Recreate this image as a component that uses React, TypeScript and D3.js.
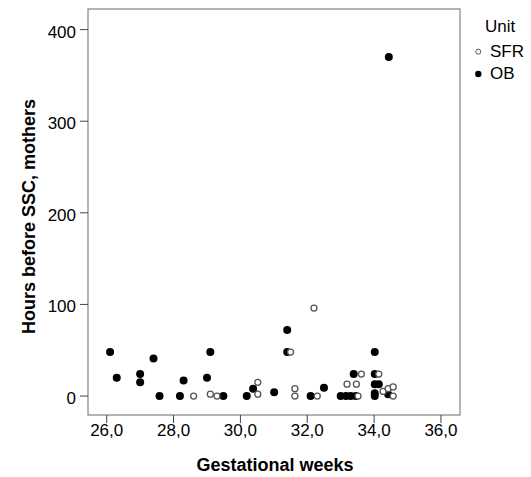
import React from "react";
import * as d3 from "d3";

const sfrWeeks = [28.6, 29.1, 29.3, 30.52, 30.52, 31.5, 31.63, 31.63, 32.2, 32.3, 33.19, 33.47, 33.52, 33.62, 34.14, 34.27, 34.42, 34.57, 34.57];
const sfrHours = [0, 2, 0, 15, 2, 48, 8, 0, 96, 0, 13, 13, 0, 24, 24, 5, 8, 10, 0];

const obWeeks = [26.1, 26.3, 27.0, 27.0, 27.4, 27.58, 28.19, 28.3, 29.0, 29.1, 29.49, 30.19, 30.38, 31.01, 31.4, 31.4, 32.1, 32.5, 33.0, 33.16, 33.3, 33.45, 33.39, 34.02, 34.02, 34.02, 34.14, 34.02, 34.02, 34.42, 34.44];
const obHours = [48, 20, 24, 15, 41, 0, 0, 17, 20, 48, 0, 0, 8, 4, 72, 48, 0, 9, 0, 0, 0, 0, 24, 48, 24, 13, 13, 3, 0, 2, 370];

const xTicks = [26, 28, 30, 32, 34, 36];
const yTicks = [0, 100, 200, 300, 400];
const legendLabels = ["SFR", "OB"];

const FONT = "'Liberation Sans', Arial, sans-serif";

export default function App() {
  const W = 531, H = 477;
  const left = 88, right = 460, top = 9, bottom = 415;
  const x = d3.scaleLinear().domain([25.44, 36.57]).range([left, right]);
  const y = d3.scaleLinear().domain([-20.7, 422.5]).range([bottom, top]);
  const fmt = (v: number) => v.toFixed(1).replace(".", ",");

  return (
    <svg width={W} height={H} style={{ position: "absolute", left: 0, top: 0, background: "#fff" }} fontFamily={FONT}>
      <rect x={left} y={top} width={right - left} height={bottom - top} fill="none" stroke="#8c8c8c" strokeWidth={1.3} />
      {yTicks.map((t) => (
        <g key={"y" + t}>
          <line x1={left - 8} x2={left} y1={y(t)} y2={y(t)} stroke="#444" strokeWidth={1} />
          <text x={76} y={y(t) + 8} textAnchor="end" fontSize={17} fill="#000">{t}</text>
        </g>
      ))}
      {xTicks.map((t) => (
        <g key={"x" + t}>
          <line x1={x(t)} x2={x(t)} y1={bottom} y2={bottom + 8} stroke="#444" strokeWidth={1} />
          <text x={x(t)} y={436} textAnchor="middle" fontSize={17} fill="#000">{fmt(t)}</text>
        </g>
      ))}
      <text x={275} y={471} textAnchor="middle" fontSize={18} fontWeight="bold" fill="#000">Gestational weeks</text>
      <text transform={`translate(34.5,216.5) rotate(-90)`} textAnchor="middle" fontSize={18} fontWeight="bold" fill="#000">Hours before SSC, mothers</text>

      {obWeeks.map((w, i) => (
        <circle key={"ob" + i} cx={x(w)} cy={y(obHours[i])} r={4} fill="#000" />
      ))}
      {sfrWeeks.map((w, i) => (
        <circle key={"sfr" + i} cx={x(w)} cy={y(sfrHours[i])} r={3} fill="#fff" stroke="#555" strokeWidth={1.3} />
      ))}

      <text x={485} y={31.7} fontSize={17} fill="#000">Unit</text>
      <circle cx={478.3} cy={51.7} r={2.5} fill="#fff" stroke="#555" strokeWidth={1} />
      <text x={490} y={57} fontSize={17} fill="#000">{legendLabels[0]}</text>
      <circle cx={478.3} cy={74} r={3.2} fill="#000" />
      <text x={490} y={78.5} fontSize={17} fill="#000">{legendLabels[1]}</text>
    </svg>
  );
}
